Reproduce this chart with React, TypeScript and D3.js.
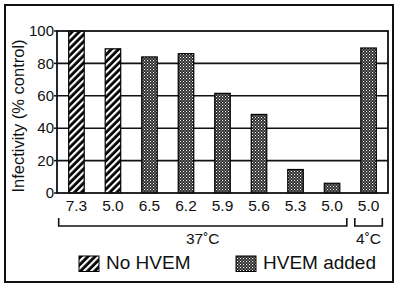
import React from "react";
import * as d3 from "d3";

const categories = ["7.3", "5.0", "6.5", "6.2", "5.9", "5.6", "5.3", "5.0", "5.0"];
const values = [100, 89, 84, 86, 61.5, 48.5, 14.5, 6, 89.5];
const groups = ["none", "none", "hvem", "hvem", "hvem", "hvem", "hvem", "hvem", "hvem"];
const yTicks = [0, 20, 40, 60, 80, 100];
const brackets = [
  { label: "37˚C", from: 0, to: 7 },
  { label: "4˚C", from: 8, to: 8 },
];
const legendItems = [
  { key: "none", label: "No HVEM" },
  { key: "hvem", label: "HVEM added" },
];

const W = 400;
const H = 289;
const FONT = "'Liberation Sans', Arial, Helvetica, sans-serif";

export default function App() {
  const left = 57, right = 388, top = 31, bottom = 193;
  const x = d3
    .scaleBand<number>()
    .domain(categories.map((_, i) => i))
    .range([left, right])
    .paddingInner(0.575)
    .paddingOuter(0.32);
  const y = d3.scaleLinear().domain([0, 100]).range([bottom, top]);
  const bw = x.bandwidth();
  const fillFor = (g: string) => (g === "none" ? "url(#hatch)" : "url(#dots)");

  return (
    <svg
      width={W}
      height={H}
      style={{ position: "absolute", left: 0, top: 0, background: "#fff" }}
      fontFamily={FONT}
    >
      <defs>
        <pattern id="hatch" patternUnits="userSpaceOnUse" width="5" height="5" patternTransform="rotate(45)">
          <rect width="5" height="5" fill="#000" />
          <rect x="0" y="0" width="2.2" height="5" fill="#fff" />
        </pattern>
        <pattern id="dots" patternUnits="userSpaceOnUse" width="3" height="3">
          <rect width="3" height="3" fill="#262626" />
          <rect x="0" y="0" width="1.1" height="1.1" fill="#fff" />
          <rect x="1.5" y="1.5" width="1.1" height="1.1" fill="#ccc" />
        </pattern>
      </defs>
      <rect x={0} y={0} width={W} height={H} fill="#fff" />
      <rect x={5} y={5} width={388} height={277} fill="none" stroke="#111" strokeWidth={2} />

      {/* gridlines */}
      {yTicks.filter((t) => t > 0 && t < 100).map((t) => (
        <line key={t} x1={left} x2={right} y1={y(t)} y2={y(t)} stroke="#111" strokeWidth={1.6} />
      ))}

      {/* bars */}
      {values.map((v, i) => (
        <rect
          key={i}
          x={x(i)}
          y={y(v)}
          width={bw}
          height={y(0) - y(v)}
          fill={fillFor(groups[i])}
          stroke="#000"
          strokeWidth={1.2}
        />
      ))}

      {/* frame */}
      <rect x={left} y={top} width={right - left} height={bottom - top} fill="none" stroke="#111" strokeWidth={1.8} />

      {/* y ticks */}
      {yTicks.map((t) => (
        <g key={t}>
          <line x1={left - 3} x2={left} y1={y(t)} y2={y(t)} stroke="#111" strokeWidth={1.5} />
          <text x={54} y={y(t)} dy="0.35em" textAnchor="end" fontSize={15} fill="#111">
            {t}
          </text>
        </g>
      ))}

      <text
        transform={`translate(24,${(top + bottom) / 2 + 4}) rotate(-90)`}
        textAnchor="middle"
        fontSize={16.5}
        fill="#111"
      >
        Infectivity (% control)
      </text>

      {/* x labels */}
      {categories.map((c, i) => (
        <text key={i} x={(x(i) as number) + bw / 2} y={211} textAnchor="middle" fontSize={15.5} fill="#111">
          {c}
        </text>
      ))}

      {/* brackets */}
      {brackets.map((b, bi) => {
        const x1 = bi === 0 ? (x(b.from) as number) - 10 : (x(b.from) as number) - 6;
        const x2 = bi === 0 ? (x(b.to) as number) + bw + 7 : (x(b.to) as number) + bw + 6;
        const yb = 226;
        return (
          <g key={bi}>
            <path d={`M${x1},${yb - 8}V${yb}H${x2}V${yb - 8}`} fill="none" stroke="#111" strokeWidth={1.6} />
            <text x={(x1 + x2) / 2} y={244} textAnchor="middle" fontSize={15.5} fill="#111">
              {b.label}
            </text>
          </g>
        );
      })}

      {/* legend */}
      {legendItems.map((it, i) => {
        const sx = i === 0 ? 79 : 236;
        return (
          <g key={it.key}>
            <rect x={sx} y={256} width={20} height={15.5} fill={fillFor(it.key)} stroke="#000" strokeWidth={1} />
            <text x={sx + 27} y={269} fontSize={19} fill="#111">
              {it.label}
            </text>
          </g>
        );
      })}
    </svg>
  );
}
